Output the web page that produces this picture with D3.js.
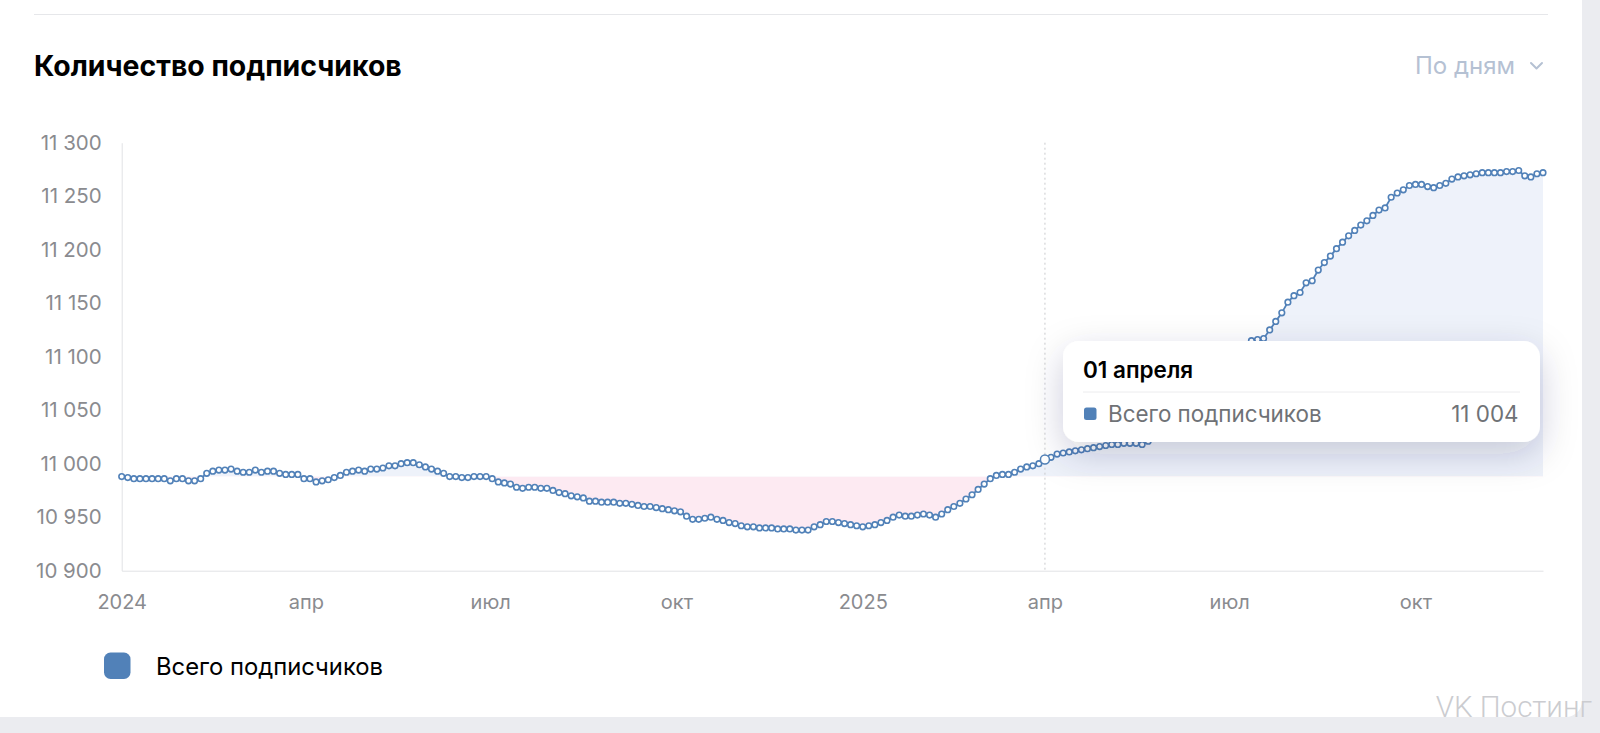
<!DOCTYPE html>
<html><head><meta charset="utf-8">
<script src="https://cdn.jsdelivr.net/npm/d3@7"></script>
<style>html,body{margin:0;padding:0;background:#ebecf0;overflow:hidden} svg{display:block}</style>
</head><body><svg id="c" width="1600" height="733"></svg>
<script>
const chartTitle = "Количество подписчиков";
const periodLabel = "По дням";
const seriesName = "Всего подписчиков";
const startDate = "2024-01-01";
const stepDays = 3;
const subscribers = [
10988,10987,10986,10986,10986,10986,10986,10986,10984,10986,
10986,10984,10984,10986,10991,10993,10994,10994,10995,10993,
10992,10992,10994,10992,10993,10993,10991,10990,10990,10990,
10986,10986,10983,10984,10985,10987,10989,10992,10993,10994,
10993,10995,10995,10996,10998,10998,11000,11001,11001,10999,
10997,10995,10993,10991,10988,10988,10987,10987,10988,10988,
10988,10986,10983,10982,10981,10978,10977,10978,10978,10977,
10977,10975,10973,10972,10970,10969,10968,10965,10965,10964,
10964,10964,10963,10963,10962,10961,10960,10960,10959,10958,
10957,10956,10955,10951,10948,10948,10949,10950,10948,10947,
10945,10944,10942,10941,10941,10940,10940,10940,10939,10939,
10939,10938,10938,10938,10941,10943,10946,10946,10945,10944,
10943,10942,10941,10942,10943,10945,10947,10950,10952,10951,
10951,10952,10953,10952,10950,10953,10957,10960,10963,10967,
10971,10976,10981,10986,10989,10990,10990,10992,10995,10997,
10998,11000,11004,11006,11009,11010,11011,11012,11013,11014,
11015,11016,11017,11018,11018,11019,11019,11019,11018,11021,
11024,11028,11033,11038,11044,11050,11056,11062,11068,11075,
11082,11089,11095,11100,11105,11110,11115,11116,11117,11125,
11133,11141,11151,11157,11160,11169,11171,11181,11188,11194,
11201,11207,11213,11218,11223,11227,11232,11237,11239,11249,
11253,11256,11260,11261,11261,11259,11258,11260,11262,11266,
11268,11269,11270,11271,11272,11272,11272,11272,11273,11273,
11274,11269,11268,11271,11272
];
const yTicks = [10900, 10950, 11000, 11050, 11100, 11150, 11200, 11250, 11300];
const xTickDates = ["2024-01-01","2024-04-01","2024-07-01","2024-10-01","2025-01-01","2025-04-01","2025-07-01","2025-10-01"];
const xTickLabels = ["2024","апр","июл","окт","2025","апр","июл","окт"];
const tooltipDate = "2025-04-01";
const tooltipLabel = "01 апреля";
const watermark = "VK Постинг";

const FONT = "Inter, 'Noto Sans', sans-serif";
const BLUE = "#5181b8";
const svg = d3.select("#c");
const parse = d3.utcParse("%Y-%m-%d");
const t0 = parse(startDate);
const data = subscribers.map((v, i) => ({date: d3.utcDay.offset(t0, i * stepDays), value: v}));
const baseline = subscribers[0];
const fmt = d3.formatLocale({decimal: ",", thousands: " ", grouping: [3], currency: ["", ""]}).format(",d");

const defs = svg.append("defs");
const sh = defs.append("filter").attr("id", "tipShadow").attr("x", "-30%").attr("y", "-60%").attr("width", "160%").attr("height", "240%");
sh.append("feDropShadow").attr("dx", 0).attr("dy", 12).attr("stdDeviation", 18).attr("flood-color", "#1a2a50").attr("flood-opacity", 0.2);

// card
svg.append("rect").attr("x", -20).attr("y", -30).attr("width", 1602).attr("height", 747).attr("rx", 16).attr("fill", "#ffffff");
svg.append("line").attr("x1", 34).attr("x2", 1548).attr("y1", 14.5).attr("y2", 14.5).attr("stroke", "#e6e7ea").attr("stroke-width", 1);

svg.append("text").attr("x", 34).attr("y", 75.5).attr("font-family", FONT).attr("font-weight", 700)
  .attr("font-size", 28.4).attr("fill", "#000").text(chartTitle);
svg.append("text").attr("x", 1515).attr("y", 74).attr("text-anchor", "end").attr("font-family", FONT)
  .attr("font-size", 24).attr("fill", "#b5c1d3").text(periodLabel);
svg.append("path").attr("d", "M1531,63 L1536.5,68.5 L1542,63").attr("fill", "none").attr("stroke", "#b5c1d3")
  .attr("stroke-width", 2).attr("stroke-linecap", "round").attr("stroke-linejoin", "round");

const x = d3.scaleUtc().domain([t0, data[data.length - 1].date]).range([121.7, 1543]);
const y = d3.scaleLinear().domain([10900, 11300]).range([570.7, 142.7]);

// fills relative to the first value
const area = d3.area().x(d => x(d.date)).y0(y(baseline)).y1(d => y(d.value));
defs.append("clipPath").attr("id", "above").append("rect").attr("x", 0).attr("y", 0).attr("width", 1600).attr("height", y(baseline));
defs.append("clipPath").attr("id", "below").append("rect").attr("x", 0).attr("y", y(baseline)).attr("width", 1600).attr("height", 733);
svg.append("path").datum(data).attr("d", area).attr("fill", "#eef2fa").attr("clip-path", "url(#above)");
svg.append("path").datum(data).attr("d", area).attr("fill", "#fdeaf2").attr("clip-path", "url(#below)");

// axes
const yAxis = d3.axisLeft(y).tickValues(yTicks).tickSize(0).tickPadding(20).tickFormat(fmt);
const gy = svg.append("g").attr("transform", "translate(121.7,0)").call(yAxis);
gy.select(".domain").attr("stroke", "#e1e2e5");
gy.selectAll("text").attr("font-family", FONT).attr("font-size", 20.5).attr("fill", "#8a8b8f");

const xAxis = d3.axisBottom(x).tickValues(xTickDates.map(parse)).tickSize(0).tickPadding(24)
  .tickFormat((d, i) => xTickLabels[i]);
const gx = svg.append("g").attr("transform", "translate(0,570.7)").call(xAxis);
gx.select(".domain").attr("stroke", "#e1e2e5");
gx.selectAll("text").attr("font-family", FONT).attr("font-size", 20).attr("fill", "#8a8b8f");

// hover line
const td = parse(tooltipDate);
svg.append("line").attr("x1", x(td)).attr("x2", x(td)).attr("y1", y(11300)).attr("y2", y(10900))
  .attr("stroke", "#c9cacd").attr("stroke-width", 1).attr("stroke-dasharray", "2,3");

// line + markers
const line = d3.line().x(d => x(d.date)).y(d => y(d.value));
svg.append("path").datum(data).attr("d", line).attr("fill", "none").attr("stroke", BLUE).attr("stroke-width", 1.8);
svg.append("g").selectAll("circle").data(data).join("circle")
  .attr("cx", d => x(d.date)).attr("cy", d => y(d.value)).attr("r", 2.8)
  .attr("fill", "#fff").attr("stroke", BLUE).attr("stroke-width", 1.6);
const hp = data.find(d => +d.date === +td);
svg.append("circle").attr("cx", x(hp.date)).attr("cy", y(hp.value)).attr("r", 4.5)
  .attr("fill", "#fff").attr("stroke", BLUE).attr("stroke-width", 1.5);

// tooltip
const tip = svg.append("g");
tip.append("rect").attr("x", 1063).attr("y", 341).attr("width", 477).attr("height", 101).attr("rx", 16)
  .attr("fill", "#fff").attr("filter", "url(#tipShadow)");
tip.append("text").attr("x", 1083).attr("y", 377.5).attr("font-family", FONT).attr("font-weight", 600)
  .attr("font-size", 22.5).attr("fill", "#000").text(tooltipLabel);
tip.append("line").attr("x1", 1083).attr("x2", 1520).attr("y1", 392).attr("y2", 392).attr("stroke", "#ececee");
tip.append("rect").attr("x", 1084).attr("y", 407.5).attr("width", 12.5).attr("height", 12.5).attr("rx", 2.5).attr("fill", BLUE);
tip.append("text").attr("x", 1108).attr("y", 421.7).attr("font-family", FONT).attr("font-size", 22.4)
  .attr("fill", "#6f7276").text(seriesName);
tip.append("text").attr("x", 1518.5).attr("y", 421.7).attr("text-anchor", "end").attr("font-family", FONT)
  .attr("font-size", 22.4).attr("fill", "#6f7276").text(fmt(hp.value));

// legend
svg.append("rect").attr("x", 104).attr("y", 652.5).attr("width", 26.5).attr("height", 26.5).attr("rx", 6.5).attr("fill", BLUE);
svg.append("text").attr("x", 156).attr("y", 675).attr("font-family", FONT).attr("font-size", 23.8)
  .attr("fill", "#000").text(seriesName);

// watermark
svg.append("text").attr("x", 1592).attr("y", 716.5).attr("text-anchor", "end").attr("font-family", "Roboto, 'Liberation Sans', sans-serif")
  .attr("font-weight", 300).attr("font-size", 29.5).attr("fill", "#cbccd0").text(watermark);
</script></body></html>
